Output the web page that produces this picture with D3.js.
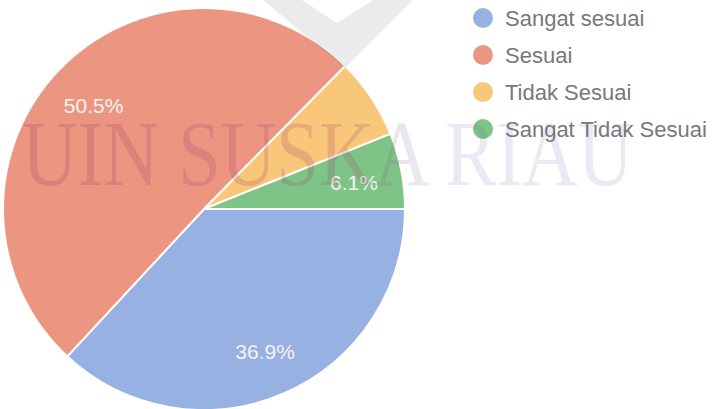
<!DOCTYPE html>
<html>
<head>
<meta charset="utf-8">
<script src="https://cdn.jsdelivr.net/npm/d3@7"></script>
<style>
  body { margin: 0; background: #fff; }
  svg { display: block; font-family: Arial, 'Liberation Sans', sans-serif; }
</style>
</head>
<body>
<div id="chart"></div>
<script>
// data
const categories = ['Sangat sesuai', 'Sesuai', 'Tidak Sesuai', 'Sangat Tidak Sesuai'];
const values = [36.9, 50.5, 6.5, 6.1];
const labels = ['36.9%', '50.5%', '', '6.1%'];
const colors = ['#98b1e3', '#ec9682', '#f9c77a', '#7dc486'];
const watermark = 'UIN SUSKA RIAU';

const width = 712;
const height = 409;
const cx = 204, cy = 209, radius = 201;

const svg = d3.select('#chart')
  .append('svg')
  .attr('width', width)
  .attr('height', height);

// watermark gradient: reddish on the left, lavender on the right
const grad = svg.append('defs').append('linearGradient')
  .attr('id', 'wm')
  .attr('gradientUnits', 'userSpaceOnUse')
  .attr('x1', 22).attr('x2', 633).attr('y1', 0).attr('y2', 0);
grad.append('stop').attr('offset', '0%').attr('stop-color', 'rgb(165,45,90)').attr('stop-opacity', 0.22);
grad.append('stop').attr('offset', '55%').attr('stop-color', 'rgb(160,60,110)').attr('stop-opacity', 0.2);
grad.append('stop').attr('offset', '66%').attr('stop-color', 'rgb(110,100,170)').attr('stop-opacity', 0.14);
grad.append('stop').attr('offset', '100%').attr('stop-color', 'rgb(110,100,170)').attr('stop-opacity', 0.14);

const rows = categories.map((c, i) => ({ name: c, value: values[i], label: labels[i], color: colors[i] }));

// Google-style pie: starts at 3 o'clock, clockwise
const pie = d3.pie()
  .sort(null)
  .value(d => d.value)
  .startAngle(Math.PI / 2)
  .endAngle(Math.PI / 2 + 2 * Math.PI);

const arc = d3.arc().innerRadius(0).outerRadius(radius);
const labelArc = d3.arc().innerRadius(radius * 0.76).outerRadius(radius * 0.76);

const g = svg.append('g').attr('transform', `translate(${cx},${cy})`);

const slices = g.selectAll('g.slice')
  .data(pie(rows))
  .join('g')
  .attr('class', 'slice');

slices.append('path')
  .attr('d', arc)
  .attr('fill', d => d.data.color)
  .attr('stroke', '#fff')
  .attr('stroke-width', 2);

slices.append('text')
  .attr('transform', d => `translate(${labelArc.centroid(d)})`)
  .attr('text-anchor', 'middle')
  .attr('dy', '0.48em')
  .attr('fill', '#f6f2f2')
  .style('font-size', '21px')
  .text(d => d.data.label);

// legend
const legend = svg.append('g').attr('class', 'legend');
const legendY = d3.scalePoint().domain(categories).range([18, 129]);

const item = legend.selectAll('g.item')
  .data(rows)
  .join('g')
  .attr('class', 'item')
  .attr('transform', d => `translate(483,${legendY(d.name)})`);

item.append('circle')
  .attr('r', 10)
  .attr('fill', d => d.color);

item.append('text')
  .attr('x', 22)
  .attr('dy', '0.36em')
  .attr('fill', '#787878')
  .style('font-size', '22px')
  .text(d => d.name);

// scanned-page watermark
svg.append('path')
  .attr('d', 'M263,0 L345,68 L413,0 Z M302,0 L373,0 L337,23 Z')
  .attr('fill-rule', 'evenodd')
  .attr('fill', 'rgba(0,0,0,0.08)');

svg.append('text')
  .attr('x', 22)
  .attr('y', 185)
  .attr('textLength', 611)
  .attr('lengthAdjust', 'spacingAndGlyphs')
  .attr('fill', 'url(#wm)')
  .style('font-family', "'Liberation Serif', 'DejaVu Serif', serif")
  .style('font-size', '94px')
  .text(watermark);
</script>
</body>
</html>
